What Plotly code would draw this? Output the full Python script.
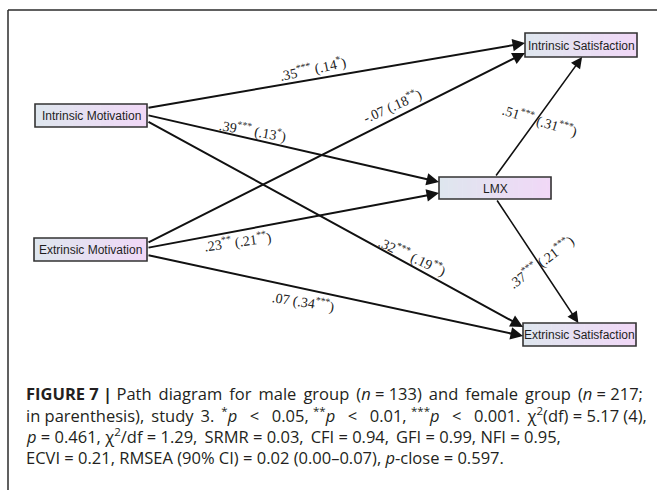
import math
import plotly.graph_objects as go

# ---------------- data ----------------
nodes = ["Intrinsic Motivation", "Extrinsic Motivation", "LMX",
         "Intrinsic Satisfaction", "Extrinsic Satisfaction"]
edge_from = ["Intrinsic Motivation", "Extrinsic Motivation", "Intrinsic Motivation",
             "Extrinsic Motivation", "Intrinsic Motivation", "Extrinsic Motivation",
             "LMX", "LMX"]
edge_to = ["Intrinsic Satisfaction", "Intrinsic Satisfaction", "LMX", "LMX",
           "Extrinsic Satisfaction", "Extrinsic Satisfaction",
           "Intrinsic Satisfaction", "Extrinsic Satisfaction"]
male_coef = [".35", "-.07", ".39", ".23", ".32", ".07", ".51", ".37"]
male_sig = ["***", "", "***", "**", "***", "", "***", "***"]
female_coef = [".14", ".18", ".13", ".21", ".19", ".34", ".31", ".21"]
female_sig = ["*", "**", "*", "**", "**", "***", "***", "***"]

S6 = "\u2006"   # six-per-em space
EN = "\u2002"   # en space
TH = "\u2009"   # thin space
caption_lines = [
    "<b>FIGURE 7 |</b> Path " + S6 + "diagram " + S6 + "for " + S6 + "male " + S6 + "group " + S6
    + "(<i>n</i> = 133) " + S6 + "and " + S6 + "female " + S6 + "group " + S6 + "(<i>n</i> = 217;",
    "in parenthesis), " + TH + "study " + TH + "3. " + TH + "<sup>*</sup><i>p</i> " + EN + "&lt; " + EN
    + "0.05, <sup>**</sup><i>p</i> " + EN + "&lt; " + EN + "0.01, <sup>***</sup><i>p</i> " + EN
    + "&lt; " + EN + "0.001. " + TH + "χ<sup>2</sup>(df) = 5.17 (4),",
    "<i>p</i> = 0.461, χ<sup>2</sup>/df = 1.29, " + S6 + "SRMR = 0.03, " + S6 + "CFI = 0.94, " + S6
    + "GFI = 0.99, NFI = 0.95,",
    "ECVI = 0.21, RMSEA (90% CI) = 0.02 (0.00–0.07), <i>p</i>-close = 0.597.",
]

# ---------------- layout geometry (pixels) ----------------
W, H = 657, 490
box = {
    "Intrinsic Motivation": (35, 104, 147, 127),
    "Extrinsic Motivation": (34, 238, 147, 261),
    "LMX": (439, 177, 551, 199),
    "Intrinsic Satisfaction": (525, 33, 637, 57),
    "Extrinsic Satisfaction": (523, 323, 636, 346),
}
# port positions: (side, fraction along side) for start and end of each edge
start_port = [("r", 0.17), ("r", 0.22), ("r", 0.48), ("r", 0.43), ("r", 0.74), ("r", 0.74), ("t", 0.5), ("b", 0.51)]
end_port = [("l", 0.42), ("l", 0.83), ("l", 0.23), ("l", 0.73), ("l", 0.17), ("l", 0.57), ("b", 0.51), ("t", 0.49)]
edge_width = [2, 2, 2, 2, 2, 2, 1.6, 1.6]
# label placement: fraction along edge, pixel offset, text angle
lab_t = [0.44, 0.65, 0.363, 0.31, 0.707, 0.415, 0.467, 0.5]
lab_off = [(0, -11), (0, -14), (0, -9), (0, 11), (0, -10), (0, 13), (4, 0), (4, 0)]
lab_ang = [-12, -24, 10, -8, 25, 9, 17, -37]


def port(name, side, f):
    x0, y0, x1, y1 = box[name]
    if side == "r":
        return x1, y0 + f * (y1 - y0)
    if side == "l":
        return x0, y0 + f * (y1 - y0)
    if side == "t":
        return x0 + f * (x1 - x0), y0
    return x0 + f * (x1 - x0), y1


def lerp(c0, c1, t):
    return "rgb(%d,%d,%d)" % tuple(round(a + (b - a) * t) for a, b in zip(c0, c1))


fig = go.Figure()
fig.add_trace(go.Scatter(x=[0, W], y=[0, H], mode="markers", marker=dict(opacity=0),
                         hoverinfo="skip", showlegend=False))

shapes = []
annotations = []

# frame lines
shapes.append(dict(type="line", x0=8, y0=10, x1=W, y1=10, line=dict(color="#2b2b2b", width=1.5)))
shapes.append(dict(type="line", x0=8, y0=10, x1=8, y1=H, line=dict(color="#2b2b2b", width=1.5)))

# edges
for i in range(len(edge_from)):
    sx, sy = port(edge_from[i], *start_port[i])
    ex, ey = port(edge_to[i], *end_port[i])
    annotations.append(dict(x=ex, y=ey, ax=sx, ay=sy, xref="x", yref="y", axref="x", ayref="y",
                            text="", showarrow=True, arrowhead=2, arrowsize=1.4 if edge_width[i] < 2 else 1.25,
                            arrowwidth=edge_width[i], arrowcolor="#111111", standoff=0))
    t = lab_t[i]
    lx = sx + t * (ex - sx) + lab_off[i][0]
    ly = sy + t * (ey - sy) + lab_off[i][1]
    txt = "%s<sup>%s</sup> (%s<sup>%s</sup>)" % (male_coef[i], male_sig[i], female_coef[i], female_sig[i])
    txt = txt.replace("<sup></sup>", "")
    annotations.append(dict(x=lx, y=ly, xref="x", yref="y", text=txt, showarrow=False,
                            textangle=lab_ang[i], xanchor="center", yanchor="middle",
                            font=dict(family="Liberation Serif, Times New Roman, serif", size=14, color="#222222")))

# boxes with gradient fill
c_left = (222, 230, 238)
c_right = (241, 216, 247)
nstrip = 24
for name in nodes:
    x0, y0, x1, y1 = box[name]
    for k in range(nstrip):
        a = x0 + (x1 - x0) * k / nstrip
        b = x0 + (x1 - x0) * (k + 1) / nstrip
        shapes.append(dict(type="rect", x0=a, x1=b + 0.5, y0=y0, y1=y1, line=dict(width=0),
                           fillcolor=lerp(c_left, c_right, (k + 0.5) / nstrip), layer="above"))
    shapes.append(dict(type="rect", x0=x0, x1=x1, y0=y0, y1=y1, layer="above",
                       line=dict(color="#333333", width=1.6), fillcolor="rgba(0,0,0,0)"))
    annotations.append(dict(x=(x0 + x1) / 2, y=(y0 + y1) / 2 + 0.5, xref="x", yref="y", text=name,
                            showarrow=False, xanchor="center", yanchor="middle",
                            font=dict(family="Liberation Sans, Arial, sans-serif",
                                      size=12, color="#1e1e1e")))

# caption
cap_y = [393, 414.5, 436, 457.5]
for yy, line in zip(cap_y, caption_lines):
    annotations.append(dict(x=24, y=yy, xref="x", yref="y", text=line, showarrow=False,
                            xanchor="left", yanchor="middle",
                            font=dict(family="Open Sans, Liberation Sans, Arial, sans-serif",
                                      size=16.5, color="#231f20")))

fig.update_layout(
    width=W, height=H, autosize=False,
    margin=dict(l=0, r=0, t=0, b=0),
    paper_bgcolor="white", plot_bgcolor="white",
    xaxis=dict(range=[0, W], visible=False, fixedrange=True),
    yaxis=dict(range=[H, 0], visible=False, fixedrange=True),
    shapes=shapes, annotations=annotations, showlegend=False,
)

fig.write_html("out.html", config={"displayModeBar": False},
               post_script="document.body.style.margin='0';document.body.style.overflow='hidden';")
